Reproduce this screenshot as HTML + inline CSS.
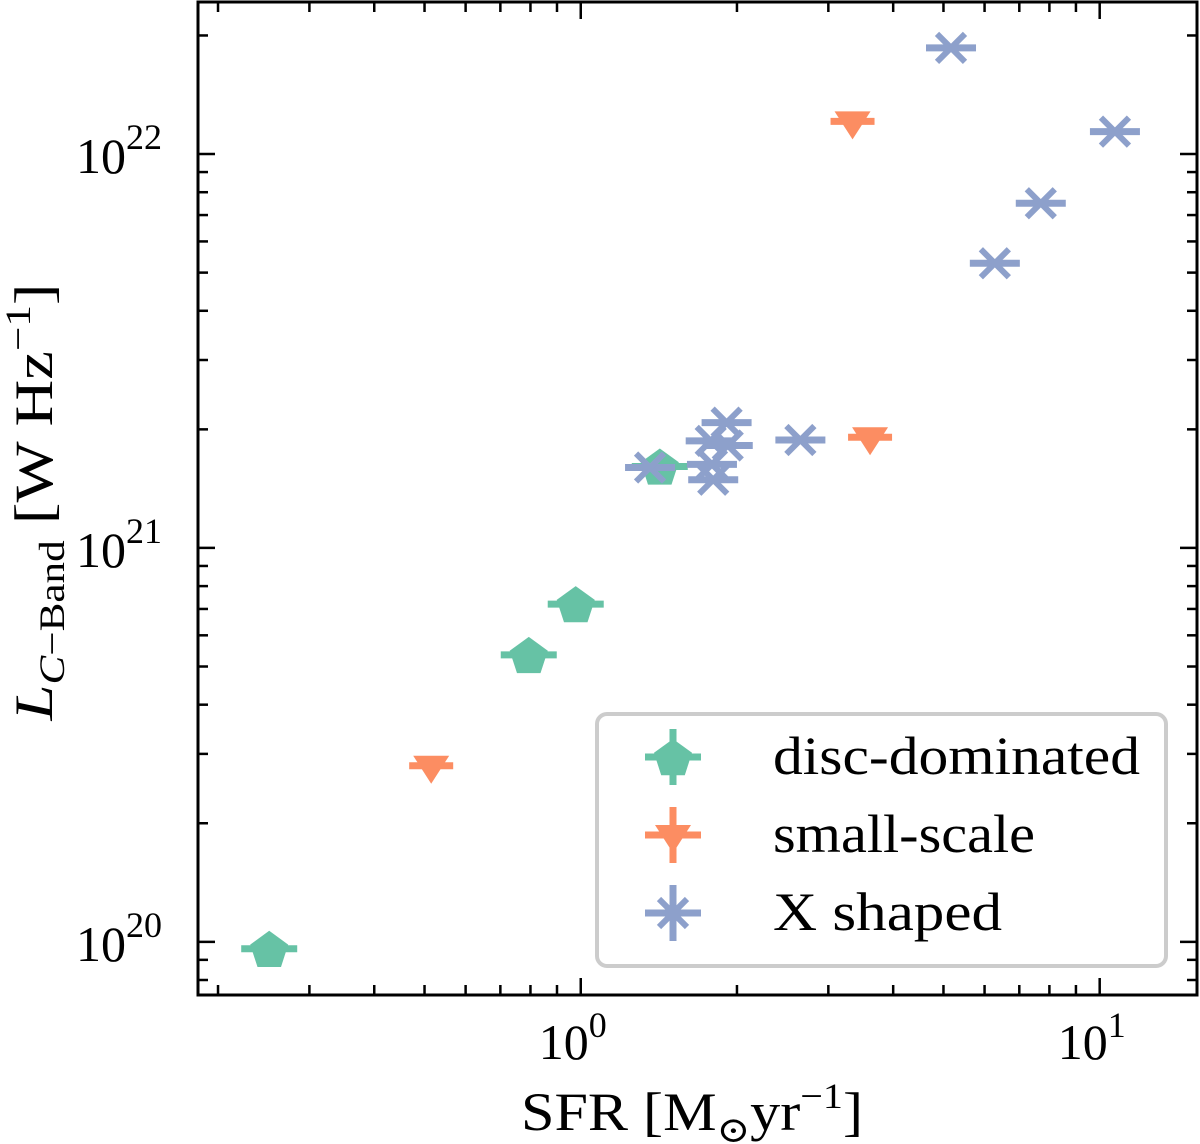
<!DOCTYPE html>
<html><head><meta charset="utf-8"><style>
html,body{margin:0;padding:0;background:#fff;}
svg{display:block;font-family:"Liberation Serif","DejaVu Serif",serif;}
</style></head><body>
<svg id="chart" width="1200" height="1144" viewBox="0 0 1200 1144" xmlns="http://www.w3.org/2000/svg">
<g id="marks"></g>
<g id="axes"></g>
<g id="legend"></g>
</svg>
<script>
const discSFR = [0.251, 0.794, 0.978, 1.42];
const discL = [0.96e20, 5.35e20, 7.2e20, 1.61e21];
const smallSFR = [0.515, 3.34, 3.61];
const smallL = [2.8e20, 1.21e22, 1.91e21];
const xSFR = [5.17, 10.7, 7.7, 6.28, 2.65, 1.91, 1.78, 1.92, 1.79, 1.80, 1.36];
const xL = [1.86e22, 1.14e22, 7.5e21, 5.28e21, 1.88e21, 2.08e21, 1.87e21, 1.82e21, 1.63e21, 1.49e21, 1.60e21];
const xTickVals = [1, 10];
const xTickExp = ["0", "1"];
const yTickVals = [1e20, 1e21, 1e22];
const yTickExp = ["20", "21", "22"];

const NS = "http://www.w3.org/2000/svg";
const L = 198, R = 1197, T = 2, B = 995;
const xmin = Math.log10(0.183), xmax = Math.log10(15.4);
const ymin = 19.865, ymax = 22.386;
function xs(v){ return L + (Math.log10(v) - xmin) / (xmax - xmin) * (R - L); }
function ys(v){ return B - (Math.log10(v) - ymin) / (ymax - ymin) * (B - T); }
function mk(tag, attrs, parent){ const e = document.createElementNS(NS, tag); for (const k in attrs) e.setAttribute(k, attrs[k]); parent.appendChild(e); return e; }

const marks = document.getElementById('marks');
const axes = document.getElementById('axes');
const legend = document.getElementById('legend');
const GREEN = "#66c2a5", ORANGE = "#fc8d62", BLUE = "#8da0cb";

function errbar(g, cx, cy, col, hw, vh){
  mk('line', {x1: cx - hw, y1: cy, x2: cx + hw, y2: cy, stroke: col, 'stroke-width': 7}, g);
  if (vh) mk('line', {x1: cx, y1: cy - vh, x2: cx, y2: cy + vh, stroke: col, 'stroke-width': 7}, g);
}
function pent(g, cx, cy, col){
  const r = 20; let p = [];
  for (let i = 0; i < 5; i++){ const a = -Math.PI/2 + i * 2 * Math.PI / 5; p.push((cx + r*Math.cos(a)).toFixed(1) + ',' + (cy + r*Math.sin(a) + 2).toFixed(1)); }
  mk('polygon', {points: p.join(' '), fill: col}, g);
}
function tri(g, cx, cy, col){
  const r = 18;
  mk('polygon', {points: `${cx-r},${cy-10} ${cx+r},${cy-10} ${cx},${cy+18}`, fill: col}, g);
}
function xmark(g, cx, cy, col){
  const a = 14;
  mk('line', {x1: cx-a, y1: cy-a, x2: cx+a, y2: cy+a, stroke: col, 'stroke-width': 6}, g);
  mk('line', {x1: cx-a, y1: cy+a, x2: cx+a, y2: cy-a, stroke: col, 'stroke-width': 6}, g);
}

discSFR.forEach((v, i) => {
  const g = mk('g', {}, marks);
  
  
  const cx = xs(v), cy = ys(discL[i]);
  errbar(g, cx, cy, GREEN, 28, 0); pent(g, cx, cy, GREEN);
});
smallSFR.forEach((v, i) => {
  const g = mk('g', {}, marks);
  
  
  const cx = xs(v), cy = ys(smallL[i]);
  errbar(g, cx, cy, ORANGE, 22, 0); tri(g, cx, cy, ORANGE);
});
xSFR.forEach((v, i) => {
  const g = mk('g', {}, marks);
  
  
  const cx = xs(v), cy = ys(xL[i]);
  errbar(g, cx, cy, BLUE, 25, 0); xmark(g, cx, cy, BLUE);
});

const frame = mk('rect', {x: L, y: T, width: R - L, height: B - T, fill: 'none', stroke: '#000', 'stroke-width': 3}, axes);



for (let d = -1; d <= 1; d++){
  for (let m = 1; m < 10; m++){
    const v = m * Math.pow(10, d); const x = xs(v);
    if (x < L || x > R) continue;
    const len = m === 1 ? 17 : 10;
    const t1 = mk('line', {x1: x, y1: B, x2: x, y2: B - len, stroke: '#000', 'stroke-width': 2.5}, axes);
    
    
    mk('line', {x1: x, y1: T, x2: x, y2: T + len, stroke: '#000', 'stroke-width': 2.5}, axes);
  }
}
xTickVals.forEach((v, i) => {
  const t = mk('text', {x: xs(v) - 8, y: 1059, 'font-size': 50, 'text-anchor': 'middle'}, axes);
  
  
  t.innerHTML = '10<tspan dy="-22" font-size="36">' + xTickExp[i] + '</tspan>';
});
for (let d = 19; d <= 22; d++){
  for (let m = 1; m < 10; m++){
    const v = m * Math.pow(10, d); const y = ys(v);
    if (y < T || y > B) continue;
    const len = m === 1 ? 17 : 10;
    const t1 = mk('line', {x1: L, y1: y, x2: L + len, y2: y, stroke: '#000', 'stroke-width': 2.5}, axes);
    
    
    mk('line', {x1: R, y1: y, x2: R - len, y2: y, stroke: '#000', 'stroke-width': 2.5}, axes);
  }
}
yTickVals.forEach((v, i) => {
  const t = mk('text', {x: 76, y: ys(v) + 19, 'font-size': 50}, axes);
  
  
  t.innerHTML = '10<tspan dy="-24" font-size="36">' + yTickExp[i] + '</tspan>';
});
const xl = mk('text', {x: 692, y: 1130, 'font-size': 54, 'text-anchor': 'middle', textLength: 342, lengthAdjust: 'spacingAndGlyphs'}, axes);


xl.innerHTML = 'SFR [M<tspan dy="12" font-size="36">⊙</tspan><tspan dy="-12">yr</tspan><tspan dy="-22" font-size="36">−1</tspan><tspan dy="22">]</tspan>';
const yl = mk('text', {x: 0, y: 0, 'font-size': 54, 'text-anchor': 'middle', textLength: 437, lengthAdjust: 'spacingAndGlyphs', transform: 'translate(52,502) rotate(-90)'}, axes);


yl.innerHTML = '<tspan font-style="italic">L</tspan><tspan dy="12" font-size="36"><tspan font-style="italic">C</tspan>−Band</tspan><tspan dy="-12"> [W Hz</tspan><tspan dy="-22" font-size="36">−1</tspan><tspan dy="22">]</tspan>';

const box = mk('rect', {x: 597, y: 714, width: 569, height: 252, rx: 10, fill: '#fff', 'fill-opacity': 0.85, stroke: '#ccc', 'stroke-width': 4}, legend);


const entries = [["disc-dominated", GREEN, pent, 757, 367], ["small-scale", ORANGE, tri, 835, 262], ["X shaped", BLUE, xmark, 913, 229]];
entries.forEach(e => {
  const g = mk('g', {}, legend);
  
  
  errbar(g, 673, e[3], e[1], 28, 28);
  e[2](g, 673, e[3], e[1]);
  const t = mk('text', {x: 773, y: e[3] + 17, 'font-size': 54, textLength: e[4], lengthAdjust: 'spacingAndGlyphs'}, g);
  t.textContent = e[0];
});
</script>
</body></html>
